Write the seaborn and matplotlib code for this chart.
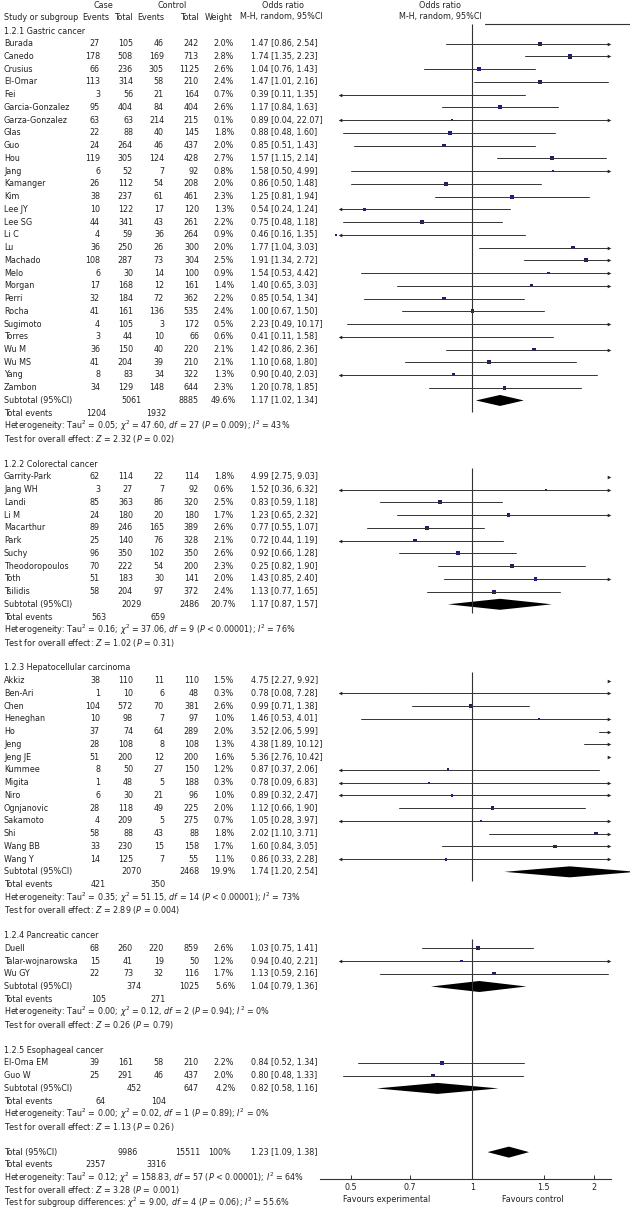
import numpy as np
import pandas as pd
import matplotlib
matplotlib.use('Agg')
import matplotlib.pyplot as plt
import seaborn as sns

###################################################################################
# Data

gc_names = ['Burada', 'Canedo', 'Crusius', 'El-Omar', 'Fei', 'Garcia-Gonzalez', 'Garza-Gonzalez',
            'Glas', 'Guo', 'Hou', 'Jang', 'Kamanger', 'Kim', 'Lee JY', 'Lee SG', 'Li C', 'Lu',
            'Machado', 'Melo', 'Morgan', 'Perri', 'Rocha', 'Sugimoto', 'Torres', 'Wu M', 'Wu MS',
            'Yang', 'Zambon']
gc_case_ev = [27, 178, 66, 113, 3, 95, 63, 22, 24, 119, 6, 26, 38, 10, 44, 4, 36, 108, 6, 17, 32, 41, 4, 3, 36, 41, 8, 34]
gc_case_n = [105, 508, 236, 314, 56, 404, 63, 88, 264, 305, 52, 112, 237, 122, 341, 59, 250, 287, 30, 168, 184, 161, 105, 44, 150, 204, 83, 129]
gc_ctrl_ev = [46, 169, 305, 58, 21, 84, 214, 40, 46, 124, 7, 54, 61, 17, 43, 36, 26, 73, 14, 12, 72, 136, 3, 10, 40, 39, 34, 148]
gc_ctrl_n = [242, 713, 1125, 210, 164, 404, 215, 145, 437, 428, 92, 208, 461, 120, 261, 264, 300, 304, 100, 161, 362, 535, 172, 66, 220, 210, 322, 644]
gc_weight = [2.0, 2.8, 2.6, 2.4, 0.7, 2.6, 0.1, 1.8, 2.0, 2.7, 0.8, 2.0, 2.3, 1.3, 2.2, 0.9, 2.0, 2.5, 0.9, 1.4, 2.2, 2.4, 0.5, 0.6, 2.1, 2.1, 1.3, 2.3]
gc_or = [1.47, 1.74, 1.04, 1.47, 0.39, 1.17, 0.89, 0.88, 0.85, 1.57, 1.58, 0.86, 1.25, 0.54, 0.75, 0.46, 1.77, 1.91, 1.54, 1.40, 0.85, 1.00, 2.23, 0.41, 1.42, 1.10, 0.90, 1.20]
gc_lo = [0.86, 1.35, 0.76, 1.01, 0.11, 0.84, 0.04, 0.48, 0.51, 1.15, 0.50, 0.50, 0.81, 0.24, 0.48, 0.16, 1.04, 1.34, 0.53, 0.65, 0.54, 0.67, 0.49, 0.11, 0.86, 0.68, 0.40, 0.78]
gc_hi = [2.54, 2.23, 1.43, 2.16, 1.35, 1.63, 22.07, 1.60, 1.43, 2.14, 4.99, 1.48, 1.94, 1.24, 1.18, 1.35, 3.03, 2.72, 4.42, 3.03, 1.34, 1.50, 10.17, 1.58, 2.36, 1.80, 2.03, 1.85]

crc_names = ['Garrity-Park', 'Jang WH', 'Landi', 'Li M', 'Macarthur', 'Park', 'Suchy', 'Theodoropoulos', 'Toth', 'Tsilidis']
crc_case_ev = [62, 3, 85, 24, 89, 25, 96, 70, 51, 58]
crc_case_n = [114, 27, 363, 180, 246, 140, 350, 222, 183, 204]
crc_ctrl_ev = [22, 7, 86, 20, 165, 76, 102, 54, 30, 97]
crc_ctrl_n = [114, 92, 320, 180, 389, 328, 350, 200, 141, 372]
crc_weight = [1.8, 0.6, 2.5, 1.7, 2.6, 2.1, 2.6, 2.3, 2.0, 2.4]
crc_or = [4.99, 1.52, 0.83, 1.23, 0.77, 0.72, 0.92, 1.25, 1.43, 1.13]
crc_lo = [2.75, 0.36, 0.59, 0.65, 0.55, 0.44, 0.66, 0.82, 0.85, 0.77]
crc_hi = [9.03, 6.32, 1.18, 2.32, 1.07, 1.19, 1.28, 1.90, 2.40, 1.65]

hcc_names = ['Akkiz', 'Ben-Ari', 'Chen', 'Heneghan', 'Ho', 'Jeng', 'Jeng JE', 'Kummee', 'Migita', 'Niro',
             'Ognjanovic', 'Sakamoto', 'Shi', 'Wang BB', 'Wang Y']
hcc_case_ev = [38, 1, 104, 10, 37, 28, 51, 8, 1, 6, 28, 4, 58, 33, 14]
hcc_case_n = [110, 10, 572, 98, 74, 108, 200, 50, 48, 30, 118, 209, 88, 230, 125]
hcc_ctrl_ev = [11, 6, 70, 7, 64, 8, 12, 27, 5, 21, 49, 5, 43, 15, 7]
hcc_ctrl_n = [110, 48, 381, 97, 289, 108, 200, 150, 188, 96, 225, 275, 88, 158, 55]
hcc_weight = [1.5, 0.3, 2.6, 1.0, 2.0, 1.3, 1.6, 1.2, 0.3, 1.0, 2.0, 0.7, 1.8, 1.7, 1.1]
hcc_or = [4.75, 0.78, 0.99, 1.46, 3.52, 4.38, 5.36, 0.87, 0.78, 0.89, 1.12, 1.05, 2.02, 1.60, 0.86]
hcc_lo = [2.27, 0.08, 0.71, 0.53, 2.06, 1.89, 2.76, 0.37, 0.09, 0.32, 0.66, 0.28, 1.10, 0.84, 0.33]
hcc_hi = [9.92, 7.28, 1.38, 4.01, 5.99, 10.12, 10.42, 2.06, 6.83, 2.47, 1.90, 3.97, 3.71, 3.05, 2.28]

pc_names = ['Duell', 'Talar-wojnarowska', 'Wu GY']
pc_case_ev = [68, 15, 22]
pc_case_n = [260, 41, 73]
pc_ctrl_ev = [220, 19, 32]
pc_ctrl_n = [859, 50, 116]
pc_weight = [2.6, 1.2, 1.7]
pc_or = [1.03, 0.94, 1.13]
pc_lo = [0.75, 0.40, 0.59]
pc_hi = [1.41, 2.21, 2.16]

ec_names = ['El-Oma EM', 'Guo W']
ec_case_ev = [39, 25]
ec_case_n = [161, 291]
ec_ctrl_ev = [58, 46]
ec_ctrl_n = [210, 437]
ec_weight = [2.2, 2.0]
ec_or = [0.84, 0.80]
ec_lo = [0.52, 0.48]
ec_hi = [1.34, 1.33]

# subtotals: case total, control total, weight, OR, lo, hi, case events, control events
sub_titles = ['1.2.1 Gastric cancer', '1.2.2 Colorectal cancer', '1.2.3 Hepatocellular carcinoma',
              '1.2.4 Pancreatic cancer', '1.2.5 Esophageal cancer']
sub_case_n = [5061, 2029, 2070, 374, 452]
sub_ctrl_n = [8885, 2486, 2468, 1025, 647]
sub_weight = [49.6, 20.7, 19.9, 5.6, 4.2]
sub_or = [1.17, 1.17, 1.74, 1.04, 0.82]
sub_lo = [1.02, 0.87, 1.20, 0.79, 0.58]
sub_hi = [1.34, 1.57, 2.54, 1.36, 1.16]
sub_case_ev = [1204, 563, 421, 105, 64]
sub_ctrl_ev = [1932, 659, 350, 271, 104]
sub_tau2 = ['0.05', '0.16', '0.35', '0.00', '0.00']
sub_chi2 = ['47.60', '37.06', '51.15', '0.12', '0.02']
sub_df = [27, 9, 14, 2, 1]
sub_p = ['= 0.009', '< 0.00001', '< 0.00001', '= 0.94', '= 0.89']
sub_i2 = ['43%', '76%', '73%', '0%', '0%']
sub_z = ['2.32', '1.02', '2.89', '0.26', '1.13']
sub_pz = ['0.02', '0.31', '0.004', '0.79', '0.26']

tot_case_n, tot_ctrl_n = 9986, 15511
tot_or, tot_lo, tot_hi = 1.23, 1.09, 1.38
tot_case_ev, tot_ctrl_ev = 2357, 3316

xticks = [0.5, 0.7, 1, 1.5, 2]
xticklabels = ['0.5', '0.7', '1', '1.5', '2']

# one value is printed differently from where its square sits
printed_or = {'Theodoropoulos': '0.25'}

studies = [
    (gc_names, gc_case_ev, gc_case_n, gc_ctrl_ev, gc_ctrl_n, gc_weight, gc_or, gc_lo, gc_hi),
    (crc_names, crc_case_ev, crc_case_n, crc_ctrl_ev, crc_ctrl_n, crc_weight, crc_or, crc_lo, crc_hi),
    (hcc_names, hcc_case_ev, hcc_case_n, hcc_ctrl_ev, hcc_ctrl_n, hcc_weight, hcc_or, hcc_lo, hcc_hi),
    (pc_names, pc_case_ev, pc_case_n, pc_ctrl_ev, pc_ctrl_n, pc_weight, pc_or, pc_lo, pc_hi),
    (ec_names, ec_case_ev, ec_case_n, ec_ctrl_ev, ec_ctrl_n, ec_weight, ec_or, ec_lo, ec_hi),
]

###################################################################################
# Figure layout

sns.set_theme(style='white')
plt.rcParams['font.family'] = ['DejaVu Sans']
plt.rcParams['mathtext.fontset'] = 'dejavusans'

W, H = 630, 1213
FS = 5.8
TXT = '#222222'
fig = plt.figure(figsize=(W / 100, H / 100), dpi=100)

tab = fig.add_axes([0, 0, 1, 1])
tab.set_xlim(0, W)
tab.set_ylim(H, 0)
tab.axis('off')

top, bot = 24, 1179
px0, px1 = 320, 611
ax = fig.add_axes([px0 / W, 1 - bot / H, (px1 - px0) / W, (bot - top) / H])
ax.set_xscale('log')
ax.set_xlim(0.42, 2.2)
ax.set_ylim(bot, top)
ax.patch.set_alpha(0)

def ypos(r):
    return 31 + (r - 2) * 12.74

def put(x, r, s, ha='right'):
    tab.text(x, ypos(r), s, ha=ha, va='center', fontsize=FS, color=TXT)

# column right edges
c_ev1, c_n1, c_ev2, c_n2, c_w, c_or = 100, 133, 164, 199, 234, 251

# headers
tab.text(103, 6, 'Case', ha='center', va='center', fontsize=FS, color=TXT)
tab.text(172, 6, 'Control', ha='center', va='center', fontsize=FS, color=TXT)
tab.text(283, 6, 'Odds ratio', ha='center', va='center', fontsize=FS, color=TXT)
tab.text(440, 6, 'Odds ratio', ha='center', va='center', fontsize=FS, color=TXT)
tab.text(4, 17, 'Study or subgroup', ha='left', va='center', fontsize=FS, color=TXT)
for xx, s in zip([109, 133, 164, 199, 233], ['Events', 'Total', 'Events', 'Total', 'Weight']):
    tab.text(xx, 17, s, ha='right', va='center', fontsize=FS, color=TXT)
tab.text(240, 17, 'M-H, random, 95%CI', ha='left', va='center', fontsize=FS, color=TXT)
tab.text(440, 17, 'M-H, random, 95%CI', ha='center', va='center', fontsize=FS, color=TXT)
tab.plot([485, W], [top, top], color='#333333', lw=0.8)

LO_CLIP, HI_CLIP = 0.47, 2.17
rows = []
diamonds = []
vsegs = []

r = 2
for i, sec in enumerate(studies):
    names, cev, cn, tev, tn, wt, o, lo, hi = sec
    put(4, r, sub_titles[i], ha='left')
    r += 1
    first = r
    for j in range(len(names)):
        put(4, r, names[j], ha='left')
        put(c_ev1, r, str(cev[j]))
        put(c_n1, r, str(cn[j]))
        put(c_ev2, r, str(tev[j]))
        put(c_n2, r, str(tn[j]))
        put(c_w, r, f'{wt[j]:.1f}%')
        ors = printed_or.get(names[j], f'{o[j]:.2f}')
        put(c_or, r, f'{ors} [{lo[j]:.2f}, {hi[j]:.2f}]', ha='left')
        rows.append(dict(study=names[j], y=ypos(r), OR=o[j], lo=lo[j], hi=hi[j], weight=wt[j]))
        r += 1
    put(4, r, 'Subtotal (95%CI)', ha='left')
    put(142, r, str(sub_case_n[i]))
    put(c_n2, r, str(sub_ctrl_n[i]))
    put(c_w + 2, r, f'{sub_weight[i]:.1f}%')
    put(c_or, r, f'{sub_or[i]:.2f} [{sub_lo[i]:.2f}, {sub_hi[i]:.2f}]', ha='left')
    diamonds.append((sub_or[i], sub_lo[i], sub_hi[i], ypos(r)))
    sub_r = r
    r += 1
    put(4, r, 'Total events', ha='left')
    put(106, r, str(sub_case_ev[i]))
    put(166, r, str(sub_ctrl_ev[i]))
    r += 1
    put(4, r, f'Heterogeneity: Tau$^2$ = {sub_tau2[i]}; $\\chi^2$ = {sub_chi2[i]}, $\\mathit{{df}}$ = {sub_df[i]} '
              f'($\\mathit{{P}}$ {sub_p[i]}); $\\mathit{{I}}^2$ = {sub_i2[i]}', ha='left')
    r += 1
    put(4, r, f'Test for overall effect: $\\mathit{{Z}}$ = {sub_z[i]} ($\\mathit{{P}}$ = {sub_pz[i]})', ha='left')
    r += 2
    if i == 0:
        vsegs.append((top, ypos(sub_r) + 12))
    elif i < 3:
        vsegs.append((ypos(first) - 9, ypos(sub_r) + 9))
    elif i == 3:
        vsegs.append((ypos(first) - 9, bot))

# overall
put(4, r, 'Total (95%CI)', ha='left')
put(138, r, str(tot_case_n))
put(200, r, str(tot_ctrl_n))
put(231, r, '100%')
put(c_or, r, f'{tot_or:.2f} [{tot_lo:.2f}, {tot_hi:.2f}]', ha='left')
diamonds.append((tot_or, tot_lo, tot_hi, ypos(r)))
r += 1
put(4, r, 'Total events', ha='left')
put(106, r, str(tot_case_ev))
put(166, r, str(tot_ctrl_ev))
r += 1
put(4, r, 'Heterogeneity: Tau$^2$ = 0.12; $\\chi^2$ = 158.83, $\\mathit{df}$ = 57 ($\\mathit{P}$ < 0.00001); '
          '$\\mathit{I}^2$ = 64%', ha='left')
r += 1
put(4, r, 'Test for overall effect: $\\mathit{Z}$ = 3.28 ($\\mathit{P}$ = 0.001)', ha='left')
r += 1
put(4, r, 'Test for subgroup differences: $\\chi^2$ = 9.00, $\\mathit{df}$ = 4 ($\\mathit{P}$ = 0.06); '
          '$\\mathit{I}^2$ = 55.6%', ha='left')

df = pd.DataFrame(rows)

###################################################################################
# Forest panel

for y0, y1 in vsegs:
    ax.plot([1, 1], [y0, y1], color='#333333', lw=0.8, solid_capstyle='butt')

for _, row in df.iterrows():
    a = max(row['lo'], LO_CLIP)
    b = min(row['hi'], HI_CLIP)
    if a < b:
        ax.plot([a, b], [row['y'], row['y']], color='#333333', lw=0.7)
    if row['lo'] < LO_CLIP:
        ax.plot([LO_CLIP], [row['y']], marker='<', ms=2.6, color='#222222', mew=0)
    if row['hi'] > HI_CLIP:
        ax.plot([HI_CLIP], [row['y']], marker='>', ms=2.6, color='#222222', mew=0)

inside = df[(df['OR'] > 0.42) & (df['OR'] < 2.2)]
sns.scatterplot(data=inside, x='OR', y='y', size='weight', sizes=(1.2, 9), size_norm=(0.1, 2.8),
                marker='s', color='#1b1b7a', edgecolor='none', linewidth=0, legend=False, ax=ax)

for est, lo, hi, y in diamonds:
    ax.fill([lo, est, hi, est], [y, y - 5.5, y, y + 5.5], color='black', lw=0, clip_on=False)

ax.set_xticks(xticks)
ax.set_xticklabels(xticklabels)
ax.minorticks_off()
ax.tick_params(axis='x', direction='in', length=3, width=0.7, pad=3, labelsize=FS,
               labelcolor=TXT, colors='#333333', bottom=True)
ax.tick_params(axis='y', left=False, labelleft=False)
ax.set_xlabel('')
ax.set_ylabel('')
for side in ['top', 'left', 'right']:
    ax.spines[side].set_visible(False)
ax.spines['bottom'].set_color('#333333')
ax.spines['bottom'].set_linewidth(0.8)

tab.text(387, 1199, 'Favours experimental', ha='center', va='center', fontsize=FS, color=TXT)
tab.text(533, 1199, 'Favours control', ha='center', va='center', fontsize=FS, color=TXT)

fig.savefig('out.png', dpi=100)
